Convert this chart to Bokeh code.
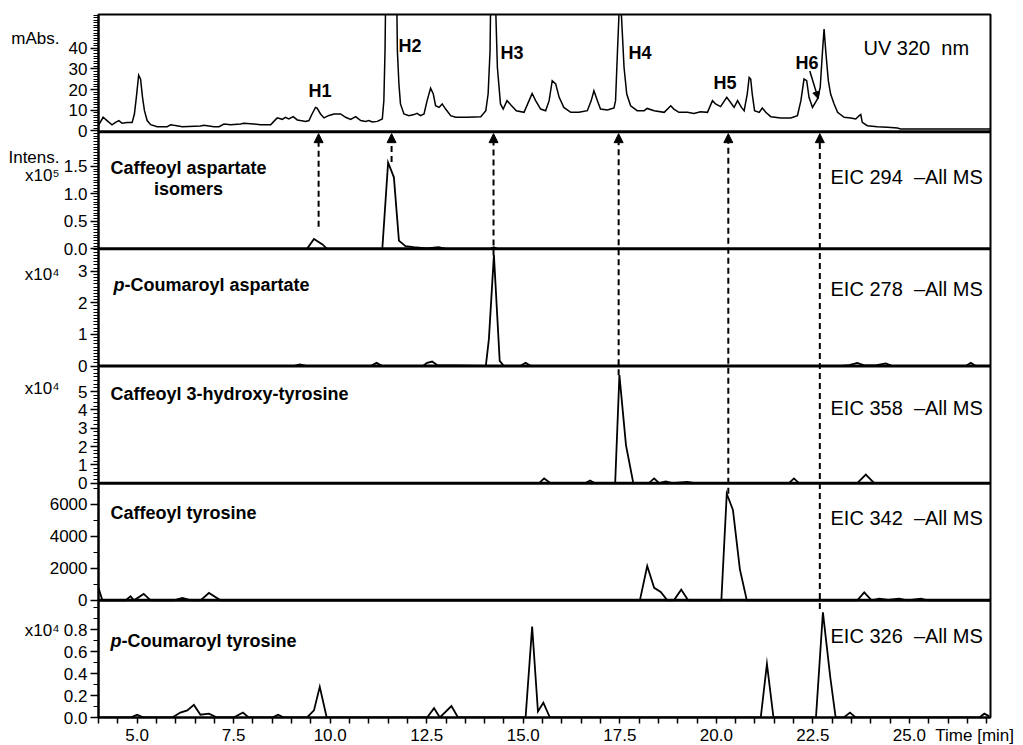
from bokeh.plotting import figure
from bokeh.models import (Range1d, FixedTicker, Span, Label, Arrow, NormalHead, LinearAxis,
                          PrintfTickFormatter, ColumnDataSource)
from bokeh.embed import file_html
from bokeh.resources import INLINE

# ---------------- data ----------------
time_start, time_end = 4.0, 27.1
time_ticks = [5.0, 7.5, 10.0, 12.5, 15.0, 17.5, 20.0, 22.5, 25.0]
time_title = "Time [min]"

uv_time = [4.01, 4.12, 4.22, 4.35, 4.44, 4.53, 4.61, 4.74, 4.87, 4.93, 4.98, 5.04, 5.09, 5.14, 5.19,
           5.26, 5.35, 5.52, 5.78, 5.87, 5.95, 6.17, 6.64, 6.73, 6.99, 7.12, 7.25, 7.42, 7.68, 7.76,
           8.02, 8.20, 8.46, 8.54, 8.63, 8.76, 8.84, 8.93, 9.04, 9.15, 9.23, 9.36, 9.45, 9.53, 9.62,
           9.66, 9.75, 9.84, 9.97, 10.10, 10.27, 10.40, 10.53, 10.66, 10.79, 10.92, 11.00, 11.09,
           11.22, 11.35, 11.39, 11.42, 11.44, 11.58, 11.72, 11.74, 11.78, 11.82, 11.91, 12.04, 12.17,
           12.25, 12.34, 12.43, 12.51, 12.60, 12.67, 12.73, 12.82, 12.90, 12.99, 13.12, 13.25, 13.55,
           13.90, 14.03, 14.09, 14.14, 14.16, 14.21, 14.27, 14.33, 14.41, 14.48, 14.58, 14.68, 14.82,
           15.02, 15.15, 15.23, 15.32, 15.45, 15.58, 15.67, 15.75, 15.84, 15.93, 16.05, 16.23, 16.44,
           16.66, 16.76, 16.83, 16.92, 17.00, 17.18, 17.35, 17.39, 17.44, 17.48, 17.54, 17.61, 17.68,
           17.78, 17.95, 18.13, 18.21, 18.39, 18.65, 18.82, 18.90, 19.03, 19.25, 19.42, 19.59, 19.77,
           19.90, 19.98, 20.11, 20.27, 20.37, 20.46, 20.55, 20.65, 20.72, 20.80, 20.85, 20.89, 20.93,
           20.99, 21.11, 21.19, 21.28, 21.41, 21.67, 21.93, 22.10, 22.19, 22.27, 22.34, 22.40, 22.49,
           22.62, 22.69, 22.75, 22.79, 22.84, 22.90, 22.96, 23.05, 23.14, 23.31, 23.48, 23.61, 23.70,
           23.74, 23.78, 23.91, 24.17, 24.43, 24.69, 24.77, 27.10]
uv_mabs = [2.9, 6.5, 4.9, 2.8, 4.0, 4.9, 3.6, 3.9, 3.9, 8.1, 16.2, 27.0, 25.0, 16.2, 9.7,
           4.9, 2.9, 1.9, 1.9, 2.9, 2.6, 1.9, 2.3, 2.6, 1.9, 1.9, 3.2, 2.9, 3.2, 3.6,
           3.2, 2.9, 2.9, 4.5, 6.2, 5.5, 6.5, 5.7, 6.8, 5.2, 4.9, 4.5, 4.9, 8.1, 11.3,
           11.0, 8.1, 6.2, 7.4, 8.1, 8.1, 6.5, 5.5, 6.8, 4.9, 4.5, 4.9, 4.2,
           4.5, 5.7, 14.6, 38.8, 70.0, 200.0, 70.0, 38.8, 22.7, 13.0, 8.1, 7.3, 7.8,
           8.4, 7.3, 8.1, 14.6, 20.7, 17.8, 12.1, 11.3, 13.0, 10.5, 7.3, 6.5, 6.5,
           6.8, 9.7, 17.8, 38.8, 70.0, 200.0, 70.0, 30.7, 13.0, 10.5, 14.6, 12.5, 9.7,
           8.9, 14.6, 18.1, 14.6, 10.5, 9.7, 14.6, 24.3, 22.7, 16.2, 11.3, 8.9, 8.9,
           9.7, 14.6, 19.4, 14.6, 10.5, 10.0, 11.0, 14.6, 38.8, 57.0, 57.0, 30.7, 17.8,
           12.1, 9.7, 9.7, 10.8, 9.7, 8.9, 12.1, 10.5, 8.9, 8.9, 8.4, 9.2, 8.9,
           14.6, 13.0, 11.7, 16.2, 13.7, 11.3, 14.6, 11.3, 9.7, 17.8, 25.9, 25.1, 17.8,
           9.7, 8.9, 11.0, 8.9, 6.8, 6.2, 6.2, 7.3, 14.6, 25.1, 24.3, 16.2, 11.3,
           15.4, 21.0, 38.8, 49.4, 37.2, 24.3, 17.8, 13.0, 8.9, 6.5, 6.2, 5.7, 7.3,
           7.8, 4.0, 2.4, 1.9, 1.6, 1.3, 0.8, 0.8]

asp_caf_time = [4.0, 9.40, 9.58, 9.80, 9.92, 11.35, 11.50, 11.65, 11.78, 11.95, 12.16, 12.50,
                12.81, 13.0, 14.15, 14.24, 14.33, 27.1]
asp_caf_int = [0, 0, 0.18, 0.08, 0, 0, 1.57, 1.30, 0.15, 0.05, 0.03, 0.01,
               0.03, 0, 0, 0.03, 0, 0]

asp_cou_time = [4.0, 9.05, 9.21, 9.38, 11.05, 11.20, 11.35, 12.40, 12.51, 12.64, 12.77, 14.03,
                14.11, 14.24, 14.39, 14.50, 14.92, 15.06, 15.20, 23.22, 23.44, 23.65, 23.83,
                24.15, 24.39, 24.56, 26.46, 26.59, 26.72, 27.1]
asp_cou_int = [0, 0, 0.05, 0, 0, 0.10, 0, 0, 0.10, 0.14, 0.03, 0,
               0.85, 3.51, 0.16, 0, 0, 0.10, 0, 0, 0.03, 0.10, 0.02,
               0.03, 0.08, 0, 0, 0.10, 0, 0]

hty_caf_time = [4.0, 15.41, 15.54, 15.71, 16.60, 16.73, 16.86, 17.38, 17.49, 17.66, 17.85,
                18.25, 18.39, 18.52, 18.69, 18.86, 19.25, 19.45, 21.88, 22.01, 22.14, 23.65,
                23.87, 24.09, 27.1]
hty_caf_int = [0, 0, 0.26, 0, 0, 0.15, 0, 0, 5.9, 2.08, 0,
               0, 0.26, 0, 0.10, 0, 0.07, 0, 0, 0.26, 0, 0,
               0.47, 0, 0]

tyr_caf_time = [4.0, 4.10, 4.70, 4.83, 4.92, 5.17, 5.35, 5.95, 6.17, 6.40, 6.64, 6.86, 7.16,
                18.02, 18.21, 18.39, 18.56, 18.73, 18.90, 19.09, 19.27, 20.13, 20.27, 20.43,
                20.61, 20.79, 23.65, 23.83, 24.02, 24.22, 24.45, 24.73, 24.95, 25.30, 25.47, 27.1]
tyr_caf_int = [780, 0, 0, 250, 0, 400, 0, 0, 150, 0, 0, 460, 0,
               0, 2150, 780, 520, 0, 0, 670, 0, 0, 6670, 5660,
               1940, 0, 0, 500, 0, 100, 30, 100, 0, 100, 0, 0]

tyr_cou_time = [4.0, 4.83, 5.00, 5.17, 5.91, 6.12, 6.30, 6.47, 6.64, 6.86, 7.07, 7.50, 7.74,
                7.89, 8.50, 8.65, 8.80, 9.40, 9.58, 9.73, 9.91, 12.51, 12.69, 12.84, 13.14,
                13.31, 15.06, 15.23, 15.38, 15.52, 15.69, 21.15, 21.31, 21.48, 22.58, 22.76,
                22.95, 23.09, 23.30, 23.46, 23.61, 26.81, 26.94, 27.07]
tyr_cou_int = [0, 0, 0.025, 0, 0, 0.045, 0.065, 0.115, 0.025, 0.035, 0, 0, 0.045,
               0, 0, 0.025, 0, 0, 0.065, 0.28, 0, 0, 0.085, 0, 0.105,
               0, 0, 0.83, 0.055, 0.135, 0, 0, 0.49, 0, 0, 0.96,
               0.37, 0, 0, 0.045, 0, 0, 0.035, 0.01]

# y-axis ticks per panel
uv_ticks = [0, 10, 20, 30, 40]
uv_tick_labels = ["0", "10", "20", "30", "40"]
asp_caf_ticks = [0, 0.5, 1.0, 1.5]
asp_caf_tick_labels = ["0.0", "0.5", "1.0", "1.5"]
asp_cou_ticks = [0, 1, 2, 3]
asp_cou_tick_labels = ["0", "1", "2", "3"]
hty_caf_ticks = [0, 1, 2, 3, 4, 5]
hty_caf_tick_labels = ["0", "1", "2", "3", "4", "5"]
tyr_caf_ticks = [0, 2000, 4000, 6000]
tyr_caf_tick_labels = ["0", "2000", "4000", "6000"]
tyr_cou_ticks = [0, 0.2, 0.4, 0.6, 0.8]
tyr_cou_tick_labels = ["0.0", "0.2", "0.4", "0.6", "0.8"]

# unit texts on the left of the y axis
unit_texts = ["mAbs.", "Intens.", "x10\u2075", "x10\u2074", "x10\u2074", "x10\u2074"]

peak_names = ["H1", "H2", "H3", "H4", "H5", "H6"]
peak_time = [9.70, 11.59, 14.23, 17.47, 20.31, 22.68]
peak_panel = [1, 1, 2, 3, 4, 5]
peak_from = [0.40, 1.58, 3.50, 5.90, 6670, 0.99]

compound_names = ["Caffeoyl aspartate\nisomers", "p-Coumaroyl aspartate",
                  "Caffeoyl 3-hydroxy-tyrosine", "Caffeoyl tyrosine", "p-Coumaroyl tyrosine"]
eic_names = ["EIC 294\u00a0 \u2013All MS", "EIC 278\u00a0 \u2013All MS", "EIC 358\u00a0 \u2013All MS",
             "EIC 342\u00a0 \u2013All MS", "EIC 326\u00a0 \u2013All MS"]
uv_name = "UV 320\u00a0 nm"

# ---------------- layout ----------------
FONT = "Liberation Sans"
BL, BT, FW, FH = 98, 14, 892, 703

# panel: (name, t, y, lo, hi, ticks, labels, minor step, line width)
panels = [
    ("uv", uv_time, uv_mabs, -0.5, 56.5, uv_ticks, uv_tick_labels, 1.25, 1.5),
    ("p2", asp_caf_time, asp_caf_int, 0.0, 2.13, asp_caf_ticks, asp_caf_tick_labels, 0.05, 1.8),
    ("p3", asp_cou_time, asp_cou_int, 0.0, 3.71, asp_cou_ticks, asp_cou_tick_labels, 0.1, 1.8),
    ("p4", hty_caf_time, hty_caf_int, 0.0, 6.4, hty_caf_ticks, hty_caf_tick_labels, 0.2, 1.8),
    ("p5", tyr_caf_time, tyr_caf_int, 0.0, 7330, tyr_caf_ticks, tyr_caf_tick_labels, 1000, 1.8),
    ("p6", tyr_cou_time, tyr_cou_int, 0.0, 1.07, tyr_cou_ticks, tyr_cou_tick_labels, 0.1, 1.8),
]
N = len(panels)
PX = FH / N  # pixels per panel band

p = figure(frame_width=FW, frame_height=FH, min_border_left=BL, min_border_right=33,
           min_border_top=BT, min_border_bottom=28, output_backend="svg",
           toolbar_location=None, x_range=Range1d(time_start, time_end),
           y_range=Range1d(0, N))
p.xgrid.visible = False
p.ygrid.visible = False
p.outline_line_color = "black"
p.outline_line_width = 2
p.background_fill_color = "white"
p.border_fill_color = "white"


def band(k, v):
    lo, hi = panels[k][3], panels[k][4]
    return (N - 1 - k) + (v - lo) / (hi - lo)


def page_y(Y):
    return round((BT + FH - Y) / PX, 6)


major_pos, minor_pos, overrides = [], [], {}
for k, (name, t, y, lo, hi, ticks, labs, mstep, lw) in enumerate(panels):
    span = hi - lo
    start = lo - (N - 1 - k) * span
    p.extra_y_ranges[name] = Range1d(start, start + N * span)
    p.line(t, y, y_range_name=name, line_color="black", line_width=lw, line_join="miter")
    for v, s in zip(ticks, labs):
        pos = round(band(k, v), 6)
        major_pos.append(pos)
        overrides[pos] = s
    m = 0.0
    while m < hi:
        minor_pos.append(round(band(k, m), 6))
        m += mstep

yax = p.yaxis[0]
yax.ticker = FixedTicker(ticks=major_pos, minor_ticks=minor_pos)
yax.major_label_overrides = overrides
yax.axis_line_width = 2
yax.major_tick_line_width = 1.5
yax.minor_tick_line_width = 1
yax.major_tick_out = 8
yax.major_tick_in = 0
yax.minor_tick_out = 5
yax.minor_tick_in = 0
yax.major_label_standoff = 3
yax.major_label_text_font = FONT
yax.major_label_text_font_size = "17px"
yax.major_label_text_color = "black"

# outer left axis carrying only the unit texts
unit_pos = [page_y(Y) for Y in [38, 157, 175, 274, 388, 630]]
uax = LinearAxis(ticker=FixedTicker(ticks=unit_pos, minor_ticks=[]),
                 major_label_overrides=dict(zip(unit_pos, unit_texts)),
                 axis_line_color=None, major_tick_line_color=None, minor_tick_line_color=None,
                 major_tick_out=0, major_tick_in=0, minor_tick_out=0, minor_tick_in=0,
                 major_label_standoff=-13, major_label_text_font=FONT,
                 major_label_text_font_size="17px", major_label_text_color="black")
p.add_layout(uax, "left")

# x axis: marks every 0.5 min drawn as minor ticks, the axis title as an extra label
title_pos = 26.69
xax = p.xaxis[0]
xax.ticker = FixedTicker(ticks=time_ticks + [title_pos],
                         minor_ticks=[4.0 + 0.5 * i for i in range(47)])
xax.formatter = PrintfTickFormatter(format="%.1f")
xax.major_label_overrides = {title_pos: time_title}
xax.axis_line_width = 2
xax.major_tick_line_color = None
xax.major_tick_out = 0
xax.major_tick_in = 0
xax.minor_tick_line_width = 1.5
xax.minor_tick_out = 6
xax.minor_tick_in = 0
xax.major_label_standoff = 2
xax.major_label_text_font = FONT
xax.major_label_text_font_size = "17px"
xax.major_label_text_color = "black"

# panel separators
for k in range(1, N):
    p.add_layout(Span(location=N - k, dimension="width", line_color="black", line_width=3))

# dashed arrows from EIC peaks up to the UV trace
arr = ColumnDataSource(dict(
    x0=peak_time, x1=peak_time,
    y0=[band(k, v) for k, v in zip(peak_panel, peak_from)],
    y1=[N - 1 - 2.0 / PX] * len(peak_time)))
p.add_layout(Arrow(source=arr, x_start="x0", y_start="y0", x_end="x1", y_end="y1",
                   line_color="black", line_width=2, line_dash="6 4",
                   end=NormalHead(size=9, fill_color="black", line_color="black", line_width=1)))

# H6 pointer arrow (in UV units)
p.add_layout(Arrow(x_start=22.42, y_start=29, x_end=22.64, y_end=15.5, y_range_name="uv",
                   line_color="black", line_width=1.5,
                   end=NormalHead(size=7, fill_color="black", line_color="black", line_width=1)))


def lab(text, X, Y, size="17px", style="normal", align="left", baseline="middle"):
    p.add_layout(Label(x=X - BL, y=(BT + FH) - Y, x_units="screen", y_units="screen",
                       text=text, text_font=FONT, text_font_size=size, text_font_style=style,
                       text_align=align, text_baseline=baseline, text_color="black"))


# peak labels
for name, X, Y in zip(peak_names, [308, 398, 500, 628, 713, 795], [90, 45, 52, 52, 82, 62]):
    lab(name, X, Y, "18px", "bold")
lab(uv_name, 863, 47, "20px")

# compound labels
lab(compound_names[0].split("\n")[0], 188, 167, "18px", "bold", align="center")
lab(compound_names[0].split("\n")[1], 188, 188, "18px", "bold", align="center")
lab("p", 113, 284, "18px", "bold italic")
lab(compound_names[1][1:], 124, 284, "18px", "bold")
lab(compound_names[2], 110, 393, "18px", "bold")
lab(compound_names[3], 110, 512, "18px", "bold")
lab("p", 110, 640, "18px", "bold italic")
lab(compound_names[4][1:], 121, 640, "18px", "bold")

for name, Y in zip(eic_names, [176, 288, 407, 517, 635]):
    lab(name, 830, Y, "20px")

open("out.html", "w").write(file_html(p, INLINE))
